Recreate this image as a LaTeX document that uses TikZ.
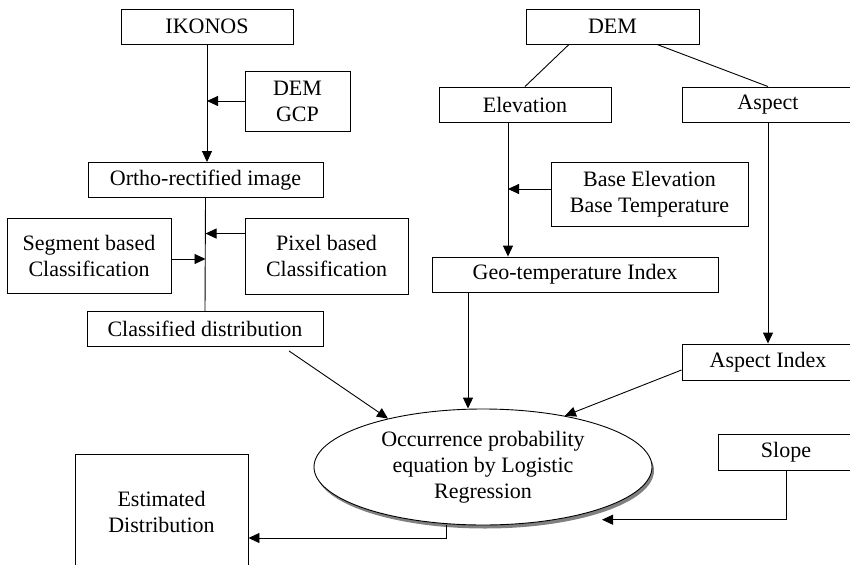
\documentclass[tikz,border=0pt]{standalone}
\usepackage{fontspec}
\setmainfont{Liberation Serif}
\usepackage{tikz}
\usetikzlibrary{arrows.meta}
\usetikzlibrary{shapes.geometric}
\usetikzlibrary{shadows}
\tikzset{
  flownode/.style = {align=center, inner sep=0pt, text centered,
    font=\fontsize{22}{26}\selectfont},
  fl_box/.style = {flownode, rectangle, draw=black, line width=0.9pt,
    minimum height=35pt},% boite simple
  fl_ell/.style = {flownode, ellipse, draw=black, fill=white, line width=0.9pt,
    minimum width=338pt, minimum height=116pt,
    drop shadow={shadow xshift=2pt, shadow yshift=-3.5pt, fill=black!50,
      opacity=1}}% ellipse avec ombre
}

\begin{document}
\begin{tikzpicture}[x=1pt,y=-1pt,line width=0.9pt,
  -{Triangle[length=11pt,width=10pt]}]
\useasboundingbox (0,0) rectangle (850,564);
\clip (0,0) rectangle (850,564);
% colonne gauche
\node [fl_box, minimum width=172pt] (ikonos) at (207,26.5) {IKONOS};
\node [fl_box, minimum width=105pt, minimum height=60pt] (demgcp) at (297.5,101) {DEM\\GCP};
\node [fl_box, minimum width=235pt] (ortho) at (205.5,180) {Ortho-rectified image};
\node [fl_box, minimum width=164pt, minimum height=75pt] (segment) at (89,255.5) {Segment based\\Classification};
\node [fl_box, minimum width=163pt, minimum height=76pt] (pixel) at (326.5,256) {Pixel based\\Classification};
\node [fl_box, minimum width=236pt] (classif) at (205,329) {Classified distribution};
% colonne droite
\node [fl_box, minimum width=173pt] (dem) at (612.5,26.5) {DEM};
\node [fl_box, minimum width=172pt] (elev) at (525,104.5) {Elevation};
\node [fl_box, minimum width=172pt] (aspect) at (768,104.5) {Aspect};
\node [fl_box, minimum width=197pt, minimum height=64pt] (base) at (649.5,194) {Base Elevation\\Base Temperature};
\node [fl_box, minimum width=286pt] (geo) at (575,274.5) {Geo-temperature Index};
\node [fl_box, minimum width=172pt, minimum height=36pt] (aspidx) at (768,362) {Aspect Index};
\node [fl_box, minimum width=136pt, minimum height=36pt] (slope) at (786,452) {Slope};
% bas
\node [fl_box, minimum width=173pt, minimum height=116pt] (est) at (161.5,512) {Estimated\\Distribution};
\node [fl_ell] (occ) at (483,467) {Occurrence probability\\equation by Logistic\\Regression};

% points de depart des fleches
\coordinate (pxin) at ([yshift=-16pt]pixel.north west);
\coordinate (sgin) at ([yshift=-3.5pt]segment.east);
\coordinate (bsin) at ([yshift=5pt]base.west);
\coordinate (elvx) at ([xshift=-17pt]elev.south);
\coordinate (slin) at ([xshift=119pt,yshift=-52.7pt]occ.center);

\draw (ikonos.south) -- (ikonos.south |- ortho.north);
\draw (demgcp.west) -- (ikonos.south |- demgcp.west);
\draw[-] (ortho.south) -- (classif.north);
\draw (pxin) -- (ortho.south |- pxin);
\draw (sgin) -- (ortho.south |- sgin);
\draw ([xshift=84pt,yshift=-4pt]classif.south) -- (occ.153);

\draw[-] ([xshift=-43.5pt]dem.south) -- (elev.north);
\draw[-] ([xshift=44.5pt]dem.south) -- (aspect.north);
\draw (elvx) -- (elvx |- geo.north);
\draw (bsin) -- (elvx |- bsin);
\draw (aspect.south) -- (aspidx.north);
\draw ([xshift=-107pt]geo.south) -- ([xshift=-15pt]occ.north);
\draw ([yshift=-8pt]aspidx.west) -- (occ.32);
\draw (slope.south) |- (slin);
\draw ([xshift=-36.3pt]occ.south) |- ([yshift=-26pt]est.east);
\end{tikzpicture}
\end{document}
